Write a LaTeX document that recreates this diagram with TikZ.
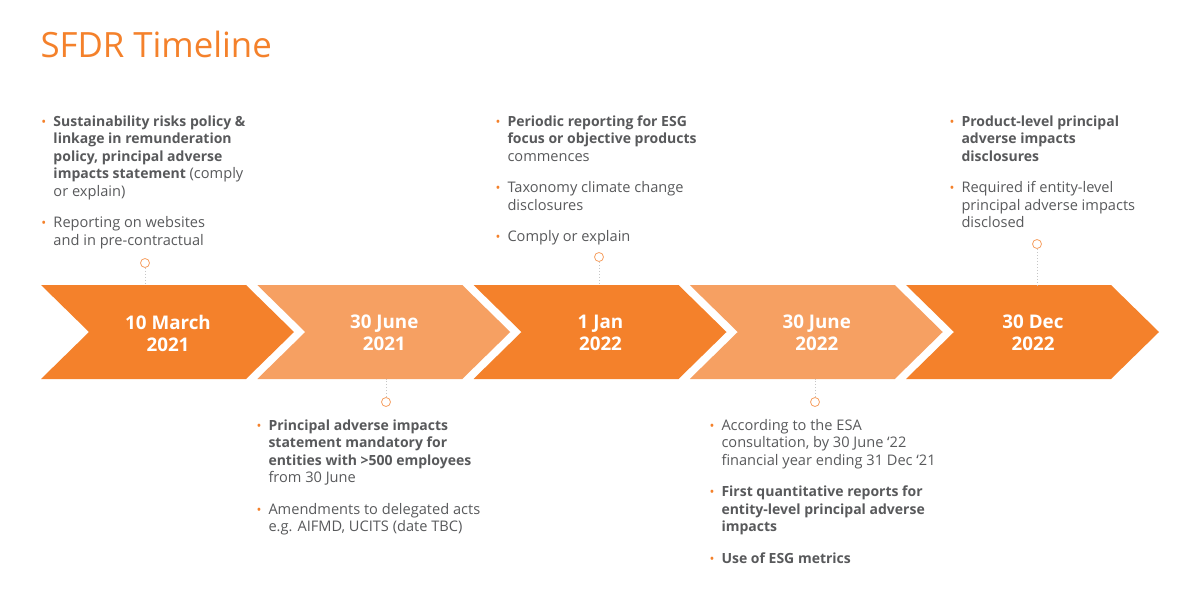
\documentclass[tikz,border=0pt]{standalone}
\usepackage{fontspec}
\setmainfont{Open Sans}
\definecolor{sforange}{HTML}{F4812B}
\definecolor{sflight}{HTML}{F6A062}
\definecolor{sfgray}{HTML}{58595B}
\newcommand{\bul}{\textcolor{sforange}{\fontsize{13}{13}\selectfont\textbullet}}
\newcommand{\hb}[1]{{\fontsize{14}{17.5}\selectfont\bfseries #1}}
\tikzset{every path/.style={line width=1 pt}}

\begin{document}
\begin{tikzpicture}[x=1pt,y=-1pt,
  datetext/.style={text=white, font=\fontsize{18.8}{22}\selectfont\bfseries, align=center},
  notes/.style={anchor=base west, inner sep=0pt, text=sfgray, font=\fontsize{14.6}{17.5}\selectfont},
  pindot/.style={circle, draw=sflight, fill=white, minimum size=9pt, inner sep=0pt, line width=.8pt},
  stem/.style={gray!45, dotted, line width=.8pt}]

\useasboundingbox (0,0) rectangle (1184,589);

\node[anchor=base west, inner sep=0pt, text=sforange, font=\fontsize{34.8}{40}\selectfont] (title) at (40,57) {SFDR Timeline};

% chevrons
\foreach \i/\col/\when in {1/sforange/{10 March\\2021}, 2/sflight/{30 June\\2021}, 3/sforange/{1 Jan\\2022}, 4/sflight/{30 June\\2022}, 5/sforange/{30 Dec\\2022}}{
  \pgfmathsetmacro\xo{41+216.25*(\i-1)}
  \fill[\col] (\xo,285) -- ++(205,0) -- ++(48,47) -- ++(-48,47) -- ++(-205,0) -- ++(48,-47) -- cycle;
  \node[datetext] (d\i) at (\xo+127,333) {\when};
}

% pins
\node[pindot] (p1) at (145,263) {};
\node[pindot] (p2) at (386,402) {};
\node[pindot] (p3) at (599,257) {};
\node[pindot] (p4) at (815,402) {};
\node[pindot] (p5) at (1037,244) {};
\coordinate (e1) at (145,285);
\coordinate (e2) at (386,379);
\coordinate (e3) at (599,285);
\coordinate (e4) at (815,379);
\coordinate (e5) at (1037,285);
\foreach \i in {1,...,5}
  \draw[stem] (p\i) -- (e\i);

% notes above
\node[notes] (n1) at (41,126) {\begin{tabular}[t]{@{}p{12pt}@{}l@{}}
\bul & \hb{Sustainability risks policy \&}\\
 & \hb{linkage in remunderation}\\
 & \hb{policy, principal adverse}\\
 & \hb{impacts statement} (comply\\
 & or explain)\\[14pt]
\bul & Reporting on websites\\
 & and in pre-contractual
\end{tabular}};

\node[notes] (n3) at (495,126) {\begin{tabular}[t]{@{}p{12pt}@{}l@{}}
\bul & \hb{Periodic reporting for ESG}\\
 & \hb{focus or objective products}\\
 & commences\\[14pt]
\bul & Taxonomy climate change\\
 & disclosures\\[14pt]
\bul & Comply or explain
\end{tabular}};

\node[notes] (n5) at (949,126) {\begin{tabular}[t]{@{}p{12pt}@{}l@{}}
\bul & \hb{Product-level principal}\\
 & \hb{adverse impacts}\\
 & \hb{disclosures}\\[14pt]
\bul & Required if entity-level\\
 & principal adverse impacts\\
 & disclosed
\end{tabular}};

% notes below
\node[notes] (n2) at (256,430) {\begin{tabular}[t]{@{}p{12pt}@{}l@{}}
\bul & \hb{Principal adverse impacts}\\
 & \hb{statement mandatory for}\\
 & \hb{entities with >500 employees}\\
 & from 30 June\\[14pt]
\bul & Amendments to delegated acts\\
 & e.g. AIFMD, UCITS (date TBC)
\end{tabular}};

\node[notes] (n4) at (709,430) {\begin{tabular}[t]{@{}p{12pt}@{}l@{}}
\bul & According to the ESA\\
 & consultation, by 30 June ‘22\\
 & financial year ending 31 Dec ‘21\\[14pt]
\bul & \hb{First quantitative reports for}\\
 & \hb{entity-level principal adverse}\\
 & \hb{impacts}\\[14pt]
\bul & \hb{Use of ESG metrics}
\end{tabular}};
\end{tikzpicture}
\end{document}
